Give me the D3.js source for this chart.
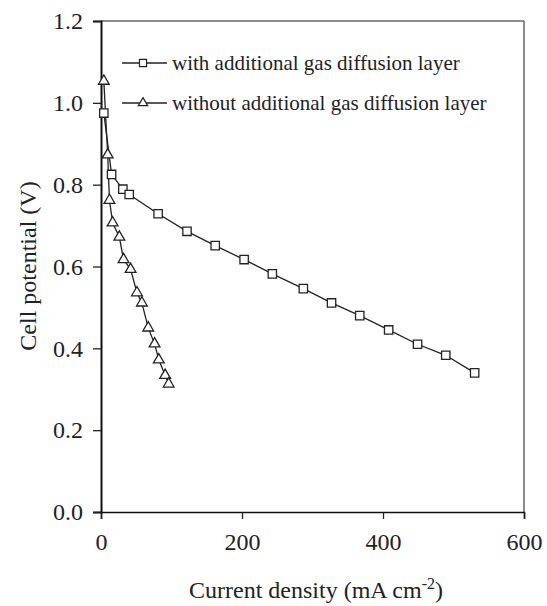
<!DOCTYPE html>
<html>
<head>
<meta charset="utf-8">
<script src="https://cdn.jsdelivr.net/npm/d3@7"></script>
<style>
  @font-face { font-family: "RefSerif"; src: local("Liberation Serif"), local("LiberationSerif"), local("Times New Roman"); }
</style>
</head>
<body style="margin:0;background:#fff">
<svg id="fig" width="547" height="606" style="display:block"></svg>
<script>
// ---- data ----
const withGdlX = [4, 15, 31, 40, 81, 122, 162, 203, 243, 287, 327, 367, 408, 449, 489, 530];
const withGdlY = [0.975, 0.825, 0.789, 0.776, 0.729, 0.686, 0.651, 0.617, 0.582, 0.546, 0.511, 0.48, 0.445, 0.41, 0.383, 0.34];
const withoutGdlX = [4, 9.5, 12, 16.5, 26, 32, 42, 51, 58, 67, 76, 82, 91, 96];
const withoutGdlY = [1.053, 0.873, 0.762, 0.707, 0.672, 0.617, 0.593, 0.536, 0.511, 0.45, 0.411, 0.372, 0.334, 0.313];
const seriesNames = ["with additional gas diffusion layer", "without additional gas diffusion layer"];
const xTicks = [0, 200, 400, 600];
const yTicks = [0.0, 0.2, 0.4, 0.6, 0.8, 1.0, 1.2];

// ---- layout ----
const FONT = "Times New Roman";
const svg = d3.select("#fig");
const mLeft = 101, mRight = 524, mTop = 21, mBottom = 512;
const x = d3.scaleLinear().domain([0, 600]).range([mLeft, mRight]);
const y = d3.scaleLinear().domain([0, 1.2]).range([mBottom, mTop]);

function serif(sel, size) {
  return sel.attr("font-family", FONT).attr("font-size", size).attr("fill", "#222");
}

// frame (top/right grey)
svg.append("line").attr("x1", mLeft).attr("x2", mRight).attr("y1", mTop).attr("y2", mTop)
  .attr("stroke", "#666").attr("stroke-width", 1.5);
svg.append("line").attr("x1", mRight).attr("x2", mRight).attr("y1", mTop).attr("y2", mBottom)
  .attr("stroke", "#666").attr("stroke-width", 1.5);

// axes
const xAxis = svg.append("g").attr("transform", `translate(0,${mBottom})`)
  .call(d3.axisBottom(x).tickValues(xTicks).tickFormat(d3.format("d")).tickSize(7).tickPadding(14));
const yAxis = svg.append("g").attr("transform", `translate(${mLeft},0)`)
  .call(d3.axisLeft(y).tickValues(yTicks).tickFormat(d3.format(".1f")).tickSize(8).tickPadding(10));
xAxis.select(".domain").attr("stroke", "#111").attr("stroke-width", 1.6);
yAxis.select(".domain").attr("stroke", "#111").attr("stroke-width", 2);
[xAxis, yAxis].forEach(g => {
  g.attr("font-family", FONT).attr("font-size", 24);
  g.selectAll(".tick line").attr("stroke", "#222").attr("stroke-width", 1.3);
  serif(g.selectAll(".tick text"), 24);
});

// axis titles
const xt = serif(svg.append("text").attr("x", 316).attr("y", 598).attr("text-anchor", "middle"), 24);
xt.append("tspan").text("Current density (mA cm");
xt.append("tspan").text("-2").attr("dy", -9).attr("font-size", 16);
xt.append("tspan").text(")").attr("dy", 9);

serif(svg.append("text").attr("transform", `translate(36,266) rotate(-90)`)
  .attr("text-anchor", "middle"), 24).text("Cell potential (V)");

// series
const line = d3.line().x(d => x(d[0])).y(d => y(d[1]));
const sq = d3.zip(withGdlX, withGdlY);
const tr = d3.zip(withoutGdlX, withoutGdlY);

const g = svg.append("g");
g.append("path").datum(sq).attr("d", line).attr("fill", "none").attr("stroke", "#222").attr("stroke-width", 1.3);
g.append("path").datum(tr).attr("d", line).attr("fill", "none").attr("stroke", "#222").attr("stroke-width", 1.3);

const sqSym = d3.symbol().type(d3.symbolSquare).size(70);
const trSym = d3.symbol().type(d3.symbolTriangle).size(50);

g.selectAll(".tri").data(tr).enter().append("path").attr("class", "tri")
  .attr("d", trSym).attr("transform", d => `translate(${x(d[0])},${y(d[1])})`)
  .attr("fill", "#fff").attr("stroke", "#222").attr("stroke-width", 1.3);
g.selectAll(".sq").data(sq).enter().append("path").attr("class", "sq")
  .attr("d", sqSym).attr("transform", d => `translate(${x(d[0])},${y(d[1])})`)
  .attr("fill", "#fff").attr("stroke", "#222").attr("stroke-width", 1.3);

// legend
const legRows = [{ name: seriesNames[0], sym: d3.symbol().type(d3.symbolSquare).size(50), y: 63 },
                 { name: seriesNames[1], sym: d3.symbol().type(d3.symbolTriangle).size(38), y: 103 }];
legRows.forEach(r => {
  svg.append("line").attr("x1", 122).attr("x2", 167).attr("y1", r.y).attr("y2", r.y)
    .attr("stroke", "#222").attr("stroke-width", 1.3);
  svg.append("path").attr("d", r.sym).attr("transform", `translate(143,${r.y})`)
    .attr("fill", "#fff").attr("stroke", "#222").attr("stroke-width", 1.2);
  serif(svg.append("text").attr("x", 172).attr("y", r.y + 7), 21).text(r.name);
});
</script>
</body>
</html>
